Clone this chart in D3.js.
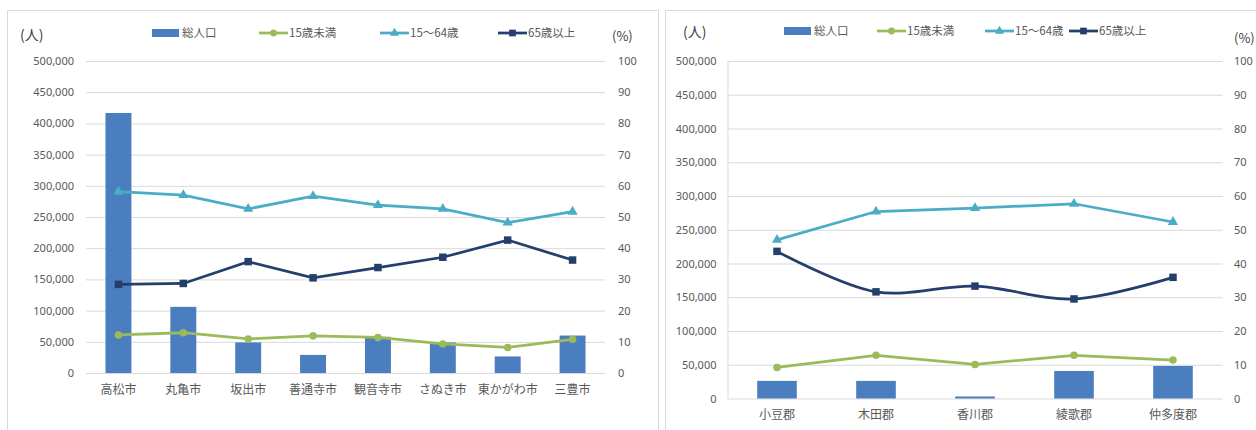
<!DOCTYPE html>
<html>
<head>
<meta charset="utf-8">
<script src="https://cdn.jsdelivr.net/npm/d3@7"></script>
<style>
  body { margin: 0; background: #fff; }
  text { font-family: "Noto Sans CJK JP", "Noto Sans", sans-serif; }
</style>
</head>
<body>
<svg width="1256" height="430"></svg>
<script>
// ---- data ----
var seriesNames = ['総人口', '15歳未満', '15～64歳', '65歳以上'];
var leftTicks = [0, 50000, 100000, 150000, 200000, 250000, 300000, 350000, 400000, 450000, 500000];
var rightTicks = [0, 10, 20, 30, 40, 50, 60, 70, 80, 90, 100];

// cities (left chart)
var cityNames = ['高松市', '丸亀市', '坂出市', '善通寺市', '観音寺市', 'さぬき市', '東かがわ市', '三豊市'];
var cityTotal = [416700, 106000, 49000, 29000, 58000, 49000, 26500, 60000];
var cityUnder15 = [12.2, 12.9, 10.9, 11.9, 11.4, 9.3, 8.2, 10.8];
var city15to64 = [58.1, 57.0, 52.6, 56.7, 53.8, 52.6, 48.2, 51.7];
var city65over = [28.4, 28.7, 35.7, 30.5, 33.8, 37.1, 42.6, 36.2];

// districts (right chart)
var gunNames = ['小豆郡', '木田郡', '香川郡', '綾歌郡', '仲多度郡'];
var gunTotal = [26100, 26100, 3000, 40800, 48200];
var gunUnder15 = [9.2, 12.8, 10.1, 12.8, 11.4];
var gun15to64 = [47.0, 55.4, 56.4, 57.7, 52.3];
var gun65over = [43.6, 31.6, 33.3, 29.5, 35.9];

var colors = { total: '#4a7ebf', under15: '#9bbb59', mid: '#4bacc6', old: '#243f6b' };
var labelColor = '#595959';
var gridColor = '#d9d9d9';

var svg = d3.select('svg');

// panel frames
svg.append('rect').attr('x', 7.5).attr('y', 10.5).attr('width', 651).attr('height', 440)
    .attr('fill', 'none').attr('stroke', '#d9d9d9');
svg.append('rect').attr('x', 665.5).attr('y', 10.5).attr('width', 620).attr('height', 440)
    .attr('fill', 'none').attr('stroke', '#d9d9d9');

function drawPanel(p) {
    var g = svg.append('g');

    var x = d3.scaleBand().domain(p.names).range([p.left, p.right]);
    var yL = d3.scaleLinear().domain([0, 500000]).range([p.bottom, p.top]);
    var yR = d3.scaleLinear().domain([0, 100]).range([p.bottom, p.top]);

    // gridlines
    g.append('g')
        .attr('transform', 'translate(' + p.left + ',0)')
        .call(d3.axisLeft(yL).tickValues(leftTicks).tickSize(-(p.right - p.left)).tickFormat(''))
        .call(function(s) {
            s.select('.domain').remove();
            s.selectAll('line').attr('stroke', gridColor);
        });

    if (p.frameLeft) {
        g.append('line')
            .attr('x1', p.left + 0.5).attr('x2', p.left + 0.5)
            .attr('y1', p.top).attr('y2', p.bottom)
            .attr('stroke', gridColor);
    }

    // left axis labels
    g.append('g')
        .attr('transform', 'translate(' + p.left + ',0)')
        .call(d3.axisLeft(yL).tickValues(leftTicks).tickSize(0).tickPadding(p.padL).tickFormat(d3.format(',')))
        .call(function(s) {
            s.select('.domain').remove();
            s.selectAll('text').attr('fill', labelColor).style('font-size', '11px')
                .style('font-family', '"Noto Sans", sans-serif');
        });

    // right axis labels
    g.append('g')
        .attr('transform', 'translate(' + p.right + ',0)')
        .call(d3.axisRight(yR).tickValues(rightTicks).tickSize(0).tickPadding(p.padR))
        .call(function(s) {
            s.select('.domain').remove();
            s.selectAll('text').attr('fill', labelColor).style('font-size', '11px')
                .style('font-family', '"Noto Sans", sans-serif');
        });

    // category labels
    g.append('g')
        .attr('transform', 'translate(0,' + p.bottom + ')')
        .call(d3.axisBottom(x).tickSize(0).tickPadding(p.padX))
        .call(function(s) {
            s.select('.domain').remove();
            s.selectAll('text').attr('fill', labelColor).style('font-size', '12px');
        });

    // bars
    var bw = x.bandwidth() * 0.4;
    g.selectAll('.bar')
        .data(p.total)
        .enter().append('rect')
        .attr('class', 'bar')
        .attr('x', function(d, i) { return x(p.names[i]) + (x.bandwidth() - bw) / 2; })
        .attr('y', function(d) { return yL(d); })
        .attr('width', bw)
        .attr('height', function(d) { return p.bottom - yL(d); })
        .attr('fill', colors.total);

    var cx = function(i) { return x(p.names[i]) + x.bandwidth() / 2; };

    var lines = [
        { vals: p.under15, color: colors.under15, sym: d3.symbolCircle, size: 45, curve: d3.curveLinear },
        { vals: p.mid, color: colors.mid, sym: d3.symbolTriangle, size: 45, curve: d3.curveLinear },
        { vals: p.old, color: colors.old, sym: d3.symbolSquare, size: 56, curve: p.oldCurve }
    ];

    lines.forEach(function(s) {
        var line = d3.line()
            .x(function(d, i) { return cx(i); })
            .y(function(d) { return yR(d); })
            .curve(s.curve);
        g.append('path')
            .datum(s.vals)
            .attr('d', line)
            .attr('fill', 'none')
            .attr('stroke', s.color)
            .attr('stroke-width', 2.75);
        g.selectAll(null)
            .data(s.vals)
            .enter().append('path')
            .attr('d', d3.symbol().type(s.sym).size(s.size))
            .attr('transform', function(d, i) { return 'translate(' + cx(i) + ',' + yR(d) + ')'; })
            .attr('fill', s.color);
    });

    // unit labels
    g.append('text').attr('x', p.unitL[0]).attr('y', p.unitL[1])
        .attr('fill', '#404040').style('font-size', '14px').text('(人)');
    g.append('text').attr('x', p.unitR[0]).attr('y', p.unitR[1])
        .attr('fill', '#404040').style('font-size', '13px').text('(%)');

    // legend
    var ly = p.legendY;
    var lg = g.append('g').style('font-size', '11.5px');
    lg.append('rect').attr('x', p.legendX[0]).attr('y', ly - 4).attr('width', 27).attr('height', 8)
        .attr('fill', colors.total);
    lg.append('text').attr('x', p.legendX[0] + 30).attr('y', ly).attr('dy', '0.35em')
        .attr('fill', labelColor).text(seriesNames[0]);
    lines.forEach(function(s, k) {
        var lx = p.legendX[k + 1];
        lg.append('line').attr('x1', lx).attr('x2', lx + 29).attr('y1', ly).attr('y2', ly)
            .attr('stroke', s.color).attr('stroke-width', 2.75);
        lg.append('path').attr('d', d3.symbol().type(s.sym).size(s.size * 0.8))
            .attr('transform', 'translate(' + (lx + 14.5) + ',' + ly + ')')
            .attr('fill', s.color);
        lg.append('text').attr('x', lx + 30).attr('y', ly).attr('dy', '0.35em')
            .attr('fill', labelColor).text(seriesNames[k + 1]);
    });
}

drawPanel({
    names: cityNames, total: cityTotal, under15: cityUnder15, mid: city15to64, old: city65over,
    left: 86, right: 605, top: 61, bottom: 373,
    padL: 12, padR: 13, padX: 12,
    oldCurve: d3.curveLinear, frameLeft: false,
    unitL: [20, 40], unitR: [612, 41],
    legendX: [152, 259, 380, 498], legendY: 33
});

drawPanel({
    names: gunNames, total: gunTotal, under15: gunUnder15, mid: gun15to64, old: gun65over,
    left: 727.5, right: 1222.5, top: 61, bottom: 398.5,
    padL: 11, padR: 11.5, padX: 12,
    oldCurve: d3.curveCatmullRom.alpha(0.5), frameLeft: true,
    unitL: [683, 37], unitR: [1234, 43],
    legendX: [784, 877, 985, 1069], legendY: 31
});
</script>
</body>
</html>
